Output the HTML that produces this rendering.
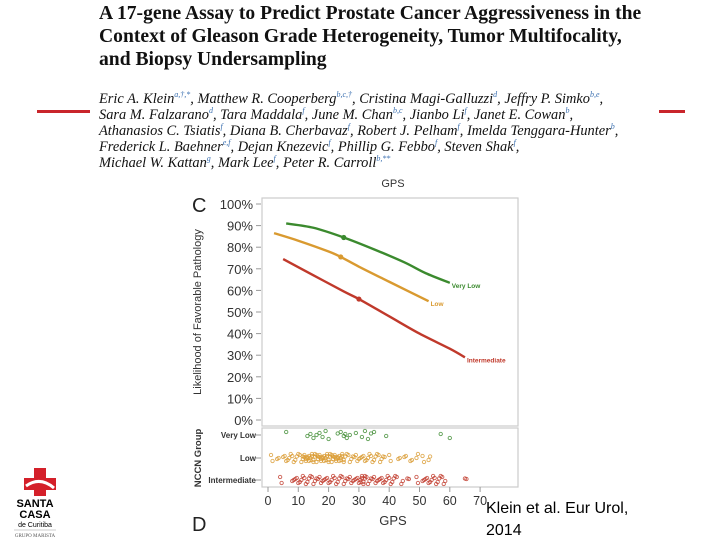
<!DOCTYPE html>
<html><head><meta charset="utf-8"><style>
html,body{margin:0;padding:0;background:#fff;}
body{width:720px;height:540px;position:relative;overflow:hidden;font-family:"Liberation Sans",Arial,sans-serif;}
.title{position:absolute;left:99px;top:2px;font-family:"Liberation Serif",serif;font-weight:bold;font-size:19.6px;line-height:23px;color:#111;white-space:nowrap;}
.auth{position:absolute;left:99px;top:91px;font-family:"Liberation Serif",serif;font-style:italic;font-size:14.4px;line-height:16px;color:#111;white-space:nowrap;}
.auth sup{font-size:8px;color:#3a6fb0;line-height:0;vertical-align:0;position:relative;top:-6px;}
.rl{position:absolute;height:3px;background:#c9252b;top:110px;}
.cite{position:absolute;left:486px;top:498px;font-size:16px;line-height:22px;color:#000;}
</style></head><body>
<div class="title">A 17-gene Assay to Predict Prostate Cancer Aggressiveness in the<br>Context of Gleason Grade Heterogeneity, Tumor Multifocality,<br>and Biopsy Undersampling</div>
<div class="auth">Eric A. Klein<sup>a,†,*</sup>, Matthew R. Cooperberg<sup>b,c,†</sup>, Cristina Magi-Galluzzi<sup>d</sup>, Jeffry P. Simko<sup>b,e</sup>,<br>Sara M. Falzarano<sup>d</sup>, Tara Maddala<sup>f</sup>, June M. Chan<sup>b,c</sup>, Jianbo Li<sup>f</sup>, Janet E. Cowan<sup>b</sup>,<br>Athanasios C. Tsiatis<sup>f</sup>, Diana B. Cherbavaz<sup>f</sup>, Robert J. Pelham<sup>f</sup>, Imelda Tenggara-Hunter<sup>b</sup>,<br>Frederick L. Baehner<sup>e,f</sup>, Dejan Knezevic<sup>f</sup>, Phillip G. Febbo<sup>f</sup>, Steven Shak<sup>f</sup>,<br>Michael W. Kattan<sup>g</sup>, Mark Lee<sup>f</sup>, Peter R. Carroll<sup>b,**</sup></div>
<div class="rl" style="left:37px;width:53px"></div>
<div class="rl" style="left:659px;width:26px"></div>

<svg width="90" height="80" style="position:absolute;left:0;top:460px">
<path d="M34 8h12v10h10v12H46v6H34v-6H24V18h10z" fill="#d4202a"/>
<path d="M26 26q14-10 28 2" stroke="#fff" stroke-width="3" fill="none"/>
<text x="35" y="47" font-size="11" font-weight="bold" text-anchor="middle" font-family="Liberation Sans">SANTA</text>
<text x="35" y="58" font-size="11" font-weight="bold" text-anchor="middle" font-family="Liberation Sans">CASA</text>
<text x="35" y="67" font-size="7" text-anchor="middle" font-family="Liberation Sans">de Curitiba</text>
<line x1="14" y1="70" x2="56" y2="70" stroke="#999" stroke-width="0.5"/>
<text x="35" y="77" font-size="5" text-anchor="middle" font-family="Liberation Serif" fill="#555">GRUPO MARISTA</text>
</svg>

<div class="cite">Klein et al. Eur Urol,<br>2014</div>

<svg id="chart" width="720" height="540" style="position:absolute;left:0;top:0"></svg>
<script>
const gpsVeryLow=[6,15,25,35,45,52,60];
const probVeryLow=[91,89,84.5,79,73,68,63.5];
const gpsLow=[2,10,20,24,30,40,53];
const probLow=[86.5,83,78,75.5,71,64,55];
const gpsInt=[5,15,25,30,40,50,60,65];
const probInt=[74.5,67,59.5,56,48,40,33,29];
const markerGps=[25,24,30];
const markerProb=[84.5,75.5,56];
const yTicks=["0%","10%","20%","30%","40%","50%","60%","70%","80%","90%","100%"];
const xTicks=[0,10,20,30,40,50,60,70];
const groups=["Very Low","Low","Intermediate"];
const ptsVeryLow=[6,13,14,15,16,17,18,19,20,23,24,25,25.5,26,27,29,31,32,33,34,35,39,57,60];
const ptsLow=[1,3,5,6,7,8,9,10,11,11.5,12,12.5,13,13.5,14,14.5,15,15.5,16,16.5,17,17.5,18,18.5,19,19.5,20,20.5,21,21.5,22,22.5,23,23.5,24,24.5,25,26,27,28,29,30,31,32,33,34,35,36,37,38,40,43,45,47,49,51,53];
const ptsInt=[4,8,9,10,11,12,13,14,15,16,17,18,19,20,21,22,23,24,25,26,27,28,29,30,30.5,31,31.5,32,33,34,35,36,37,38,39,40,41,42,44,46,49,51,52,53,54,55,56,57,58,65];

const svg=document.getElementById('chart');
const NS='http://www.w3.org/2000/svg';
const X0=268,XS=3.03;
const xs=g=>X0+g*XS;
const ys=p=>420-p*2.16;
const rowY=[435,458,480];
const cols=['#3b8a2e','#d99a30','#c0392b'];
function mk(t,a){const e=document.createElementNS(NS,t);for(const k in a)e.setAttribute(k,a[k]);svg.appendChild(e);return e;}
function txt(x,y,s,sz,anc,fill,wt){const e=mk('text',{x:x,y:y,'font-size':sz,'text-anchor':anc,fill:fill||'#333','font-family':'Liberation Sans, Arial, sans-serif'});if(wt)e.setAttribute('font-weight',wt);e.textContent=s;return e;}

let e=mk('rect',{x:262,y:198,width:256,height:228,fill:'#fff',stroke:'#ccc','stroke-width':1.2});

e=mk('rect',{x:262,y:428,width:256,height:59,fill:'#fff',stroke:'#ccc','stroke-width':1.2});


yTicks.forEach((t,i)=>{const y=ys(i*10);
 e=mk('line',{x1:256,x2:261,y1:y,y2:y,stroke:'#999'});
 e=txt(253,y+5,t,13,'end','#333');});
xTicks.forEach(t=>{const x=xs(t);
 e=mk('line',{x1:x,x2:x,y1:487,y2:492,stroke:'#999'});
 e=txt(x,505,String(t),12.5,'middle','#333');});
groups.forEach((g,i)=>{
 e=mk('line',{x1:256,x2:261,y1:rowY[i],y2:rowY[i],stroke:'#999'});
 e=txt(256,rowY[i]+3,g,8,'end','#333','bold');});

e=txt(393,187,'GPS',11,'middle','#333');
e=txt(393,525,'GPS',13,'middle','#333');
e=txt(192,212,'C',20,'start','#222');
e=txt(192,531,'D',20,'start','#222');
e=txt(0,0,'Likelihood of Favorable Pathology',11,'middle','#333');e.setAttribute('transform','translate(201,312) rotate(-90)');

e=txt(0,0,'NCCN Group',9.5,'middle','#333','bold');e.setAttribute('transform','translate(201,458) rotate(-90)');


function curve(gx,py,c,name){
 const P=gx.map((g,i)=>[xs(g),ys(py[i])]);
 let d='M'+P[0][0]+' '+P[0][1];
 for(let i=0;i<P.length-1;i++){
  const p0=P[Math.max(0,i-1)],p1=P[i],p2=P[i+1],p3=P[Math.min(P.length-1,i+2)];
  const c1=[p1[0]+(p2[0]-p0[0])/6,p1[1]+(p2[1]-p0[1])/6];
  const c2=[p2[0]-(p3[0]-p1[0])/6,p2[1]-(p3[1]-p1[1])/6];
  d+=' C'+c1[0]+' '+c1[1]+' '+c2[0]+' '+c2[1]+' '+p2[0]+' '+p2[1];
 }
 const p=mk('path',{d:d,fill:'none',stroke:c,'stroke-width':2.4,'stroke-linejoin':'round'});
 }
curve(gpsVeryLow,probVeryLow,cols[0],'line-very-low');
curve(gpsLow,probLow,cols[1],'line-low');
curve(gpsInt,probInt,cols[2],'line-intermediate');
markerGps.forEach((g,i)=>{e=mk('circle',{cx:xs(g),cy:ys(markerProb[i]),r:2.6,fill:cols[i]});
 });
const lbls=[['Very Low',gpsVeryLow,probVeryLow],['Low',gpsLow,probLow],['Intermediate',gpsInt,probInt]];
lbls.forEach((l,i)=>{const n=l[1].length-1;
 e=txt(xs(l[1][n])+2,ys(l[2][n])+5,l[0],6.5,'start',cols[i],'bold');
 });

const jit=[-3,1,-1,3,0,-2,2,-4,4,-1.5];
[ptsVeryLow,ptsLow,ptsInt].forEach((arr,r)=>{
 arr.forEach((g,i)=>{for(let k=0;k<(r===0?1:2);k++){
  e=mk('circle',{cx:xs(g)+k*1.5,cy:rowY[r]+jit[(i+k*3)%jit.length],r:1.7,fill:'none',stroke:cols[r],'stroke-width':0.9,opacity:0.8});
  }});});
</script>
</body></html>
